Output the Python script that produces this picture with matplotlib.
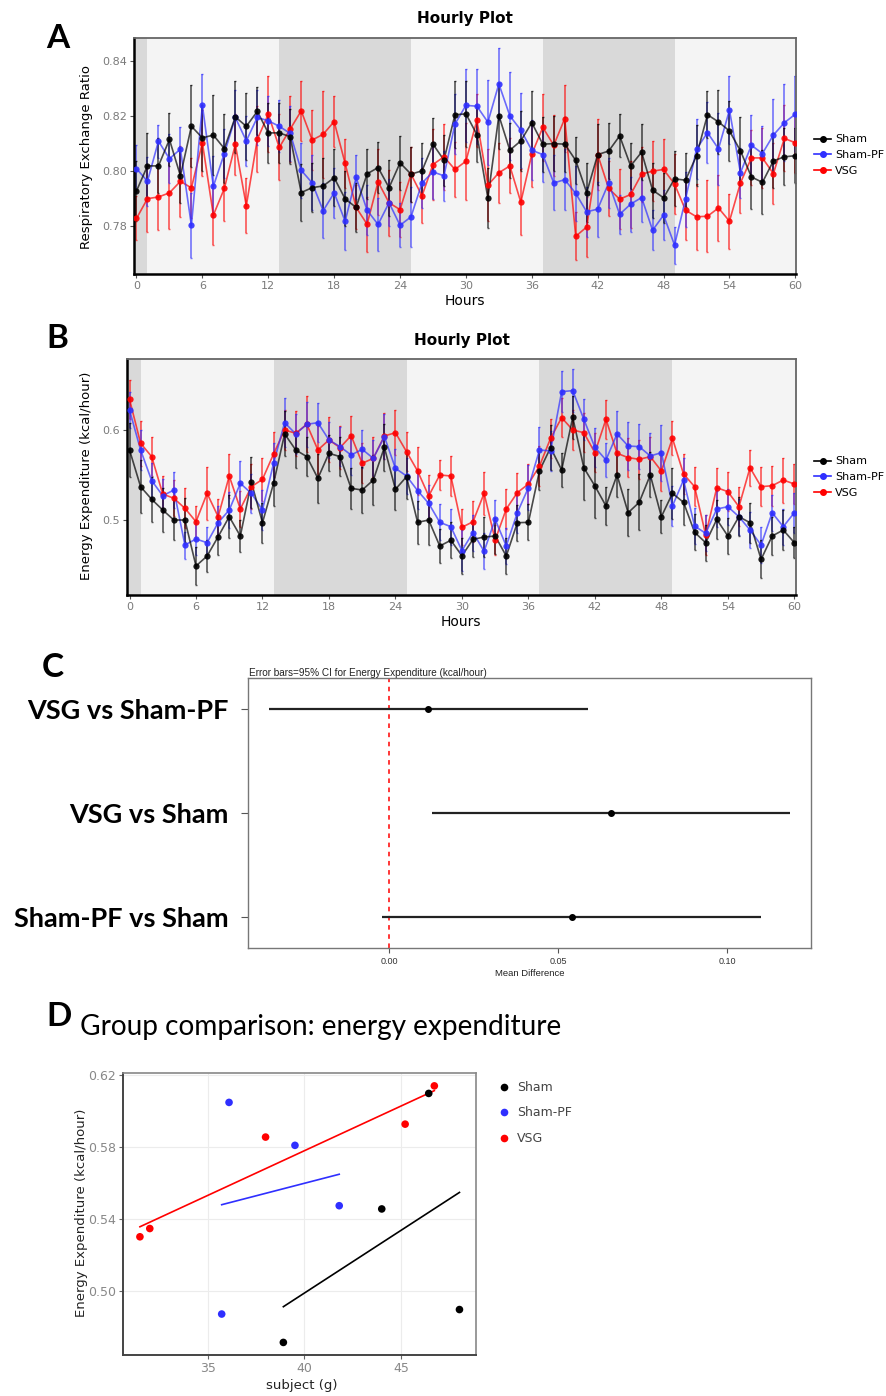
import numpy as np
import matplotlib
matplotlib.use("Agg")
import matplotlib.pyplot as plt
from matplotlib.lines import Line2D

# ---- data -----------------------------------------------------------------
hours = np.arange(0, 61)
groups = ["Sham", "Sham-PF", "VSG"]
colors = {"Sham": "#000000", "Sham-PF": "#2f2fff", "VSG": "#ff0000"}
dark_periods = [(-1, 1), (13, 25), (37, 49)]

# respiratory exchange ratio, hourly means and error half-widths
rer_sham = [0.7927, 0.8018, 0.8018, 0.8114, 0.7982, 0.8162, 0.8120, 0.8130, 0.8081, 0.8196,
            0.8162, 0.8216, 0.8138, 0.8138, 0.8124, 0.7921, 0.7939, 0.7945, 0.7975, 0.7898,
            0.7867, 0.7989, 0.8012, 0.7939, 0.8029, 0.7988, 0.8000, 0.8097, 0.8039, 0.8204,
            0.8207, 0.8132, 0.7901, 0.8201, 0.8075, 0.8109, 0.8175, 0.8097, 0.8099, 0.8097,
            0.8038, 0.7921, 0.8059, 0.8072, 0.8127, 0.8018, 0.8068, 0.7930, 0.7902, 0.7971,
            0.7966, 0.8055, 0.8204, 0.8178, 0.8145, 0.8073, 0.7978, 0.7958, 0.8036, 0.8051,
            0.8055]
rer_pf = [0.8008, 0.7962, 0.8108, 0.8044, 0.8079, 0.7802, 0.8238, 0.7944, 0.8063, 0.8194,
          0.8109, 0.8194, 0.8182, 0.8162, 0.8136, 0.8002, 0.7956, 0.7855, 0.7920, 0.7817,
          0.7976, 0.7857, 0.7805, 0.7884, 0.7802, 0.7833, 0.7956, 0.7996, 0.7982, 0.8170,
          0.8238, 0.8235, 0.8177, 0.8316, 0.8200, 0.8148, 0.8075, 0.8059, 0.7956, 0.7968,
          0.7918, 0.7851, 0.7861, 0.7956, 0.7842, 0.7879, 0.7903, 0.7784, 0.7839, 0.7730,
          0.7897, 0.8079, 0.8139, 0.8080, 0.8221, 0.7993, 0.8093, 0.8063, 0.8130, 0.8175,
          0.8206]
rer_vsg = [0.7827, 0.7899, 0.7905, 0.7920, 0.7962, 0.7938, 0.8102, 0.7839, 0.7936, 0.8096,
           0.7873, 0.8114, 0.8206, 0.8085, 0.8152, 0.8218, 0.8112, 0.8133, 0.8179, 0.8027,
           0.7867, 0.7806, 0.7960, 0.7884, 0.7859, 0.7988, 0.7909, 0.8023, 0.8051, 0.8005,
           0.8035, 0.8184, 0.7948, 0.7993, 0.8018, 0.7886, 0.8061, 0.8158, 0.8093, 0.8190,
           0.7762, 0.7796, 0.8059, 0.7936, 0.7897, 0.7914, 0.7988, 0.7999, 0.8005, 0.7952,
           0.7857, 0.7833, 0.7835, 0.7865, 0.7817, 0.7956, 0.8047, 0.8047, 0.7990, 0.8118,
           0.8102]
rer_sham_err = [0.0110, 0.0118, 0.0100, 0.0097, 0.0100, 0.0149, 0.0120, 0.0145, 0.0124, 0.0130,
                0.0122, 0.0087, 0.0110, 0.0110, 0.0100, 0.0103, 0.0090, 0.0100, 0.0104, 0.0100,
                0.0090, 0.0090, 0.0093, 0.0102, 0.0097, 0.0100, 0.0100, 0.0096, 0.0093, 0.0122,
                0.0119, 0.0100, 0.0108, 0.0120, 0.0100, 0.0110, 0.0115, 0.0100, 0.0100, 0.0100,
                0.0086, 0.0108, 0.0110, 0.0103, 0.0078, 0.0085, 0.0102, 0.0100, 0.0090, 0.0100,
                0.0099, 0.0110, 0.0086, 0.0115, 0.0110, 0.0124, 0.0118, 0.0116, 0.0100, 0.0103,
                0.0100]
rer_pf_err = [0.0085, 0.0090, 0.0060, 0.0090, 0.0080, 0.0118, 0.0114, 0.0110, 0.0090, 0.0100,
              0.0090, 0.0100, 0.0090, 0.0095, 0.0100, 0.0100, 0.0100, 0.0100, 0.0090, 0.0105,
              0.0080, 0.0090, 0.0095, 0.0085, 0.0080, 0.0110, 0.0090, 0.0100, 0.0090, 0.0110,
              0.0134, 0.0137, 0.0155, 0.0131, 0.0160, 0.0136, 0.0110, 0.0100, 0.0100, 0.0110,
              0.0100, 0.0090, 0.0100, 0.0090, 0.0070, 0.0100, 0.0090, 0.0073, 0.0090, 0.0067,
              0.0100, 0.0110, 0.0110, 0.0130, 0.0124, 0.0090, 0.0110, 0.0100, 0.0130, 0.0139,
              0.0138]
rer_vsg_err = [0.0080, 0.0120, 0.0120, 0.0130, 0.0130, 0.0110, 0.0120, 0.0110, 0.0120, 0.0110,
               0.0100, 0.0120, 0.0138, 0.0120, 0.0120, 0.0110, 0.0110, 0.0158, 0.0092, 0.0090,
               0.0080, 0.0100, 0.0120, 0.0120, 0.0100, 0.0100, 0.0100, 0.0130, 0.0120, 0.0100,
               0.0140, 0.0097, 0.0130, 0.0110, 0.0100, 0.0120, 0.0120, 0.0121, 0.0110, 0.0121,
               0.0087, 0.0110, 0.0130, 0.0100, 0.0110, 0.0120, 0.0100, 0.0110, 0.0110, 0.0110,
               0.0110, 0.0120, 0.0130, 0.0120, 0.0100, 0.0110, 0.0100, 0.0110, 0.0110, 0.0120,
               0.0110]

# energy expenditure (kcal/hour), hourly means and error half-widths
ee_sham = [0.5778, 0.5370, 0.5230, 0.5111, 0.5000, 0.5000, 0.4489, 0.4600, 0.4815, 0.5037,
           0.4822, 0.5419, 0.4970, 0.5407, 0.5956, 0.5778, 0.5704, 0.5463, 0.5741, 0.5704,
           0.5352, 0.5333, 0.5444, 0.5807, 0.5341, 0.5481, 0.4974, 0.5000, 0.4711, 0.4775,
           0.4602, 0.4785, 0.4811, 0.4822, 0.4600, 0.4970, 0.4974, 0.5548, 0.5804, 0.5556,
           0.6141, 0.5581, 0.5378, 0.5156, 0.5500, 0.5081, 0.5196, 0.5500, 0.5037, 0.5296,
           0.5196, 0.4863, 0.4748, 0.5007, 0.4822, 0.5037, 0.4970, 0.4563, 0.4822, 0.4889,
           0.4748]
ee_pf = [0.6222, 0.5778, 0.5437, 0.5270, 0.5333, 0.4722, 0.4789, 0.4748, 0.4970, 0.5111,
         0.5407, 0.5296, 0.5111, 0.5630, 0.6081, 0.5956, 0.6063, 0.6081, 0.5889, 0.5815,
         0.5722, 0.5785, 0.5685, 0.5926, 0.5574, 0.5489, 0.5326, 0.5185, 0.4974, 0.4926,
         0.4660, 0.4861, 0.4652, 0.5007, 0.4711, 0.5081, 0.5359, 0.5778, 0.5767, 0.6426,
         0.6437, 0.6119, 0.5807, 0.5667, 0.5956, 0.5822, 0.5815, 0.5711, 0.5748, 0.5156,
         0.5444, 0.4933, 0.4852, 0.5122, 0.5148, 0.5037, 0.4889, 0.4722, 0.5081, 0.4926,
         0.5081]
ee_vsg = [0.6341, 0.5852, 0.5704, 0.5289, 0.5241, 0.5130, 0.4981, 0.5296, 0.5037, 0.5489,
          0.5122, 0.5370, 0.5452, 0.5733, 0.6000, 0.5963, 0.6063, 0.5778, 0.5889, 0.5804,
          0.5937, 0.5630, 0.5685, 0.5933, 0.5970, 0.5759, 0.5544, 0.5267, 0.5500, 0.5489,
          0.4919, 0.4981, 0.5296, 0.4778, 0.5122, 0.5304, 0.5400, 0.5600, 0.5907, 0.6137,
          0.6000, 0.5970, 0.5748, 0.6119, 0.5741, 0.5693, 0.5674, 0.5704, 0.5544, 0.5907,
          0.5511, 0.5370, 0.4833, 0.5359, 0.5315, 0.5148, 0.5581, 0.5370, 0.5381, 0.5444,
          0.5400]
ee_sham_err = [0.030, 0.0296, 0.025, 0.024, 0.022, 0.024, 0.021, 0.018, 0.020, 0.024,
               0.018, 0.0285, 0.022, 0.025, 0.025, 0.020, 0.022, 0.027, 0.020, 0.022,
               0.023, 0.026, 0.028, 0.026, 0.023, 0.025, 0.024, 0.028, 0.019, 0.020,
               0.020, 0.020, 0.022, 0.020, 0.020, 0.020, 0.020, 0.022, 0.025, 0.0185,
               0.024, 0.036, 0.036, 0.021, 0.025, 0.026, 0.031, 0.025, 0.0185, 0.028,
               0.025, 0.020, 0.020, 0.022, 0.020, 0.022, 0.022, 0.021, 0.021, 0.022,
               0.017]
ee_pf_err = [0.020, 0.022, 0.020, 0.018, 0.020, 0.015, 0.018, 0.017, 0.018, 0.020,
             0.025, 0.022, 0.022, 0.022, 0.027, 0.022, 0.025, 0.022, 0.020, 0.022,
             0.022, 0.021, 0.020, 0.025, 0.022, 0.020, 0.020, 0.020, 0.020, 0.020,
             0.023, 0.020, 0.020, 0.022, 0.020, 0.022, 0.025, 0.026, 0.022, 0.023,
             0.024, 0.023, 0.022, 0.0185, 0.025, 0.027, 0.025, 0.025, 0.031, 0.022,
             0.025, 0.020, 0.020, 0.020, 0.020, 0.020, 0.020, 0.020, 0.020, 0.020,
             0.022]
ee_vsg_err = [0.0215, 0.025, 0.022, 0.020, 0.020, 0.022, 0.018, 0.0296, 0.020, 0.024,
              0.020, 0.025, 0.024, 0.025, 0.022, 0.025, 0.031, 0.027, 0.025, 0.024,
              0.022, 0.022, 0.024, 0.025, 0.025, 0.022, 0.027, 0.023, 0.017, 0.022,
              0.020, 0.023, 0.024, 0.017, 0.022, 0.022, 0.022, 0.022, 0.022, 0.022,
              0.022, 0.022, 0.022, 0.0215, 0.022, 0.022, 0.022, 0.022, 0.022, 0.019,
              0.022, 0.022, 0.022, 0.022, 0.022, 0.022, 0.020, 0.022, 0.022, 0.025,
              0.022]

# pairwise comparisons of energy expenditure (mean difference, 95% CI)
comparisons = ["VSG vs Sham-PF", "VSG vs Sham", "Sham-PF vs Sham"]
diff_mean = [0.0116, 0.0657, 0.0541]
ci_low = [-0.0355, 0.0127, -0.0021]
ci_high = [0.0590, 0.1187, 0.1101]

# body weight vs energy expenditure per animal
sham_wt = [46.43, 44.0, 38.91, 48.02]
sham_ee = [0.6098, 0.5455, 0.4712, 0.4895]
pf_wt = [36.10, 39.51, 41.80, 35.72]
pf_ee = [0.6048, 0.5809, 0.5473, 0.4870]
vsg_wt = [46.72, 45.21, 37.99, 32.0, 31.49]
vsg_ee = [0.6140, 0.5927, 0.5855, 0.5346, 0.5300]

# ---- layout helpers (pixel positions on an 887 x 1396 canvas) --------------
W, H = 887, 1396
fig = plt.figure(figsize=(W / 100, H / 100), dpi=100)
plt.rcParams["font.family"] = ["DejaVu Sans"]


def px_axes(l, t, r, b):
    return fig.add_axes([l / W, 1 - b / H, (r - l) / W, (b - t) / H])


def ftext(x, y, s, **kw):
    return fig.text(x / W, 1 - y / H, s, **kw)


small_sans = ["Liberation Sans", "DejaVu Sans"]
humanist = ["Lato", "DejaVu Sans"]
letter_font = dict(family=humanist, fontweight="bold", fontsize=24, ha="left", va="center")


def hourly_panel(ax, series, errs, xlim, ylim, yticks, yfmt):
    ax.set_facecolor("#f4f4f4")
    for a, b in dark_periods:
        ax.axvspan(a, b, color="#d9d9d9", lw=0, zorder=0)
    for g in ["VSG", "Sham-PF", "Sham"]:
        c = colors[g]
        ax.errorbar(hours, series[g], yerr=errs[g], fmt="none", ecolor=c,
                    elinewidth=1.2, capsize=1, alpha=0.65, zorder=2)
        ax.plot(hours, series[g], color=c, lw=1.2, alpha=0.7, zorder=3)
        ax.plot(hours, series[g], "o", color=c, ms=4.5, alpha=0.9, mec="none", zorder=4)
    ax.set_xlim(*xlim)
    ax.set_ylim(*ylim)
    ax.set_xticks(np.arange(0, 61, 6))
    ax.set_yticks(yticks)
    ax.set_yticklabels([yfmt % v for v in yticks])
    ax.tick_params(colors="#555555", labelcolor="#7a7a7a", labelsize=8, length=3, pad=2)
    for s in ["left", "bottom"]:
        ax.spines[s].set_color("black")
        ax.spines[s].set_linewidth(1.8)
    for s in ["top", "right"]:
        ax.spines[s].set_color("#666666")
        ax.spines[s].set_linewidth(1.3)


def hourly_legend(y_center):
    handles = [Line2D([], [], color=colors[g], marker="o", ms=4, lw=1.2) for g in groups]
    fig.legend(handles, groups, loc="center left",
               bbox_to_anchor=(810 / W, 1 - y_center / H), frameon=False,
               fontsize=8, handlelength=1.5, handletextpad=0.35, labelspacing=0.5,
               borderaxespad=0)


# ---- A: respiratory exchange ratio -----------------------------------------
axA = px_axes(134.3, 37.7, 796, 274)
hourly_panel(axA, {"Sham": rer_sham, "Sham-PF": rer_pf, "VSG": rer_vsg},
             {"Sham": rer_sham_err, "Sham-PF": rer_pf_err, "VSG": rer_vsg_err},
             (-0.2, 60.06), (0.7625, 0.8484), [0.78, 0.80, 0.82, 0.84], "%.2f")
ftext(465, 18, "Hourly Plot", fontsize=11, fontweight="bold", ha="center", va="center")
ftext(465, 301, "Hours", fontsize=10, ha="center", va="center")
ftext(87, 157, "Respiratory Exchange Ratio", fontsize=9.5, rotation=90, ha="center", va="center")
hourly_legend(155)
ftext(46, 38, "A", **letter_font)

# ---- B: energy expenditure --------------------------------------------------
axB = px_axes(127.3, 359.3, 796, 595)
hourly_panel(axB, {"Sham": ee_sham, "Sham-PF": ee_pf, "VSG": ee_vsg},
             {"Sham": ee_sham_err, "Sham-PF": ee_pf_err, "VSG": ee_vsg_err},
             (-0.2, 60.15), (0.4167, 0.6785), [0.5, 0.6], "%.1f")
ftext(462, 341, "Hourly Plot", fontsize=11, fontweight="bold", ha="center", va="center")
ftext(461, 622, "Hours", fontsize=10, ha="center", va="center")
ftext(87, 476, "Energy Expenditure (kcal/hour)", fontsize=9.5, rotation=90,
      ha="center", va="center")
hourly_legend(477)
ftext(46, 338, "B", **letter_font)

# ---- C: mean differences with 95% CI ---------------------------------------
axC = px_axes(248.3, 678.5, 811, 947.7)
rows = [3, 2, 1]
axC.hlines(rows, ci_low, ci_high, color="#222222", lw=1.6, zorder=2)
axC.plot(diff_mean, rows, "o", color="black", ms=4, zorder=3)
axC.axvline(0, color="#ff0000", ls=(0, (3, 3)), lw=1.1, zorder=1)
axC.set_xlim(-0.04175, 0.1249)
axC.set_ylim(0.70, 3.29)
axC.set_yticks(rows)
axC.set_yticklabels(comparisons, family=humanist, fontweight="bold", fontsize=19.5)
axC.set_xticks([0.0, 0.05, 0.10])
axC.set_xticklabels(["0.00", "0.05", "0.10"], family=small_sans, fontsize=6.5,
                    color="#333333")
axC.tick_params(axis="y", length=5, pad=9, color="#555555")
axC.tick_params(axis="x", length=3.5, pad=3, color="#555555")
for s in axC.spines.values():
    s.set_color("#777777")
    s.set_linewidth(1.0)
ftext(249, 673, "Error bars=95% CI for Energy Expenditure (kcal/hour)", family=small_sans,
      fontsize=7.2, color="#222222", ha="left", va="center")
ftext(530, 974, "Mean Difference", family=small_sans, fontsize=6.8, color="#222222",
      ha="center", va="center")
ftext(42, 668, "C", **letter_font)

# ---- D: weight vs energy expenditure ---------------------------------------
axD = px_axes(123.3, 1073.3, 475.7, 1355)
axD.set_facecolor("white")
for g, wt, ee in [("Sham", sham_wt, sham_ee), ("Sham-PF", pf_wt, pf_ee),
                  ("VSG", vsg_wt, vsg_ee)]:
    slope, icpt = np.polyfit(wt, ee, 1)
    xs = np.array([min(wt), max(wt)])
    axD.plot(xs, slope * xs + icpt, color=colors[g], lw=1.2, zorder=2)
    axD.scatter(wt, ee, s=30, color=colors[g], edgecolors="none", zorder=3)
axD.set_xlim(30.63, 48.86)
axD.set_ylim(0.4642, 0.621)
axD.set_xticks([35, 40, 45])
axD.set_yticks([0.50, 0.54, 0.58, 0.62])
axD.set_yticklabels(["0.50", "0.54", "0.58", "0.62"])
axD.grid(True, color="#ececec", lw=0.8)
axD.set_axisbelow(True)
axD.tick_params(colors="#666666", labelcolor="#888888", labelsize=9, length=3, pad=2)
for s in ["left", "bottom"]:
    axD.spines[s].set_color("#444444")
    axD.spines[s].set_linewidth(1.4)
for s in ["top", "right"]:
    axD.spines[s].set_color("#888888")
    axD.spines[s].set_linewidth(1.2)
ftext(302, 1386, "subject (g)", fontsize=9.5, color="#222222", ha="center", va="center")
ftext(82, 1213, "Energy Expenditure (kcal/hour)", fontsize=9.5, color="#222222",
      rotation=90, ha="center", va="center")
ftext(80, 1027, "Group comparison: energy expenditure", family=humanist,
      fontsize=20.2, ha="left", va="center")
handles = [Line2D([], [], ls="none", marker="o", ms=5.5, color=colors[g], mec="none")
           for g in groups]
fig.legend(handles, groups, loc="upper left", bbox_to_anchor=(492 / W, 1 - 1076 / H),
           frameon=False, fontsize=9, labelcolor="#444444", handletextpad=0.4,
           labelspacing=1.0, borderaxespad=0, handlelength=1.2)
ftext(46, 1017, "D", **letter_font)

fig.savefig("out.png", dpi=100)
